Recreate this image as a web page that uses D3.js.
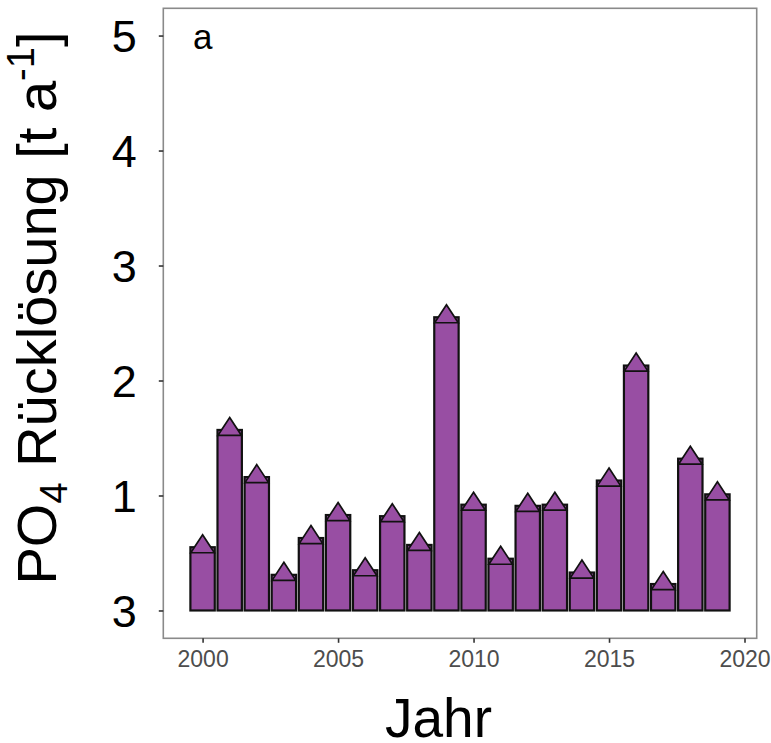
<!DOCTYPE html>
<html>
<head>
<meta charset="utf-8">
<script src="https://cdn.jsdelivr.net/npm/d3@7"></script>
<style>
  html, body { margin: 0; padding: 0; background: #fff; }
  svg { display: block; font-family: "Liberation Sans", Arial, sans-serif; }
</style>
</head>
<body>
<svg id="chart" width="771" height="743"></svg>
<script>
// Annual PO4 release (t per year)
const years = [2000, 2001, 2002, 2003, 2004, 2005, 2006, 2007, 2008, 2009,
               2010, 2011, 2012, 2013, 2014, 2015, 2016, 2017, 2018, 2019];
const release = [0.55, 1.57, 1.16, 0.31, 0.63, 0.83, 0.35, 0.82, 0.57, 2.55,
                 0.92, 0.45, 0.91, 0.92, 0.33, 1.13, 2.13, 0.23, 1.32, 1.01];
const yTickValues = [0, 1, 2, 3, 4, 5];
const yTickLabels = ["3", "1", "2", "3", "4", "5"];
const xTickValues = [2000, 2005, 2010, 2015, 2020];
const panelLabel = "a";

const svg = d3.select("#chart");
const panel = { left: 163.3, right: 756.7, top: 8.3, bottom: 638.3 };

const x = d3.scaleLinear().domain([1998.55, 2020.45]).range([panel.left, panel.right]);
const y = d3.scaleLinear().domain([-0.242, 5.237]).range([panel.bottom, panel.top]);
const barW = 0.9;

const purple = "#984EA3";

// bars
svg.append("g").selectAll("rect")
  .data(years)
  .join("rect")
  .attr("x", (d) => x(d - barW / 2))
  .attr("width", (d) => x(d + barW / 2) - x(d - barW / 2))
  .attr("y", (d, i) => y(release[i]))
  .attr("height", (d, i) => y(0) - y(release[i]))
  .attr("fill", purple)
  .attr("stroke", "#111")
  .attr("stroke-width", 2.2);

// triangle markers at each bar value
const triHalf = 11.8;
svg.append("g").selectAll("path")
  .data(years)
  .join("path")
  .attr("d", (d, i) => {
    const cx = x(d), cy = y(release[i]);
    return `M${cx},${cy - 12.5} L${cx + triHalf},${cy + 5.5} L${cx - triHalf},${cy + 5.5} Z`;
  })
  .attr("fill", purple)
  .attr("stroke", "#111")
  .attr("stroke-width", 1.7)
  .attr("stroke-linejoin", "miter");

// panel border
svg.append("rect")
  .attr("x", panel.left).attr("y", panel.top)
  .attr("width", panel.right - panel.left)
  .attr("height", panel.bottom - panel.top)
  .attr("fill", "none")
  .attr("stroke", "#8a8a8a")
  .attr("stroke-width", 1.6);

// y axis
const yAxis = d3.axisLeft(y)
  .tickValues(yTickValues)
  .tickFormat((d, i) => yTickLabels[i])
  .tickSize(4.5)
  .tickPadding(22);
const gy = svg.append("g").attr("transform", `translate(${panel.left},0)`).call(yAxis);
gy.select(".domain").remove();
gy.selectAll(".tick line").attr("stroke", "#333").attr("stroke-width", 1.6);
gy.selectAll(".tick text")
  .attr("fill", "#000")
  .style("font-size", "45px")
  .attr("dy", "0.36em");

// x axis
const xAxis = d3.axisBottom(x)
  .tickValues(xTickValues)
  .tickFormat(d3.format("d"))
  .tickSize(4.5)
  .tickPadding(8);
const gx = svg.append("g").attr("transform", `translate(0,${panel.bottom})`).call(xAxis);
gx.select(".domain").remove();
gx.selectAll(".tick line").attr("stroke", "#333").attr("stroke-width", 1.6);
gx.selectAll(".tick text")
  .attr("fill", "#4d4d4d")
  .style("font-size", "23px");

// panel label
svg.append("text")
  .attr("x", 202.7).attr("y", 49)
  .attr("text-anchor", "middle")
  .style("font-size", "35px")
  .attr("fill", "#000")
  .text(panelLabel);

// axis titles
svg.append("text")
  .attr("x", 385)
  .attr("y", 737)
  .attr("text-anchor", "start")
  .style("font-size", "55px")
  .attr("fill", "#000")
  .text("Jahr");

const yTitle = svg.append("text")
  .attr("transform", `translate(56,308) rotate(-90)`)
  .attr("text-anchor", "middle")
  .style("font-size", "56px")
  .attr("fill", "#000");
yTitle.append("tspan").text("PO");
yTitle.append("tspan").attr("dy", 11).style("font-size", "38px").text("4");
yTitle.append("tspan").attr("dy", -11).text(" Rücklösung [t a");
yTitle.append("tspan").attr("dy", -22).style("font-size", "38px").text("-1");
yTitle.append("tspan").attr("dy", 22).text("]");
</script>
</body>
</html>
